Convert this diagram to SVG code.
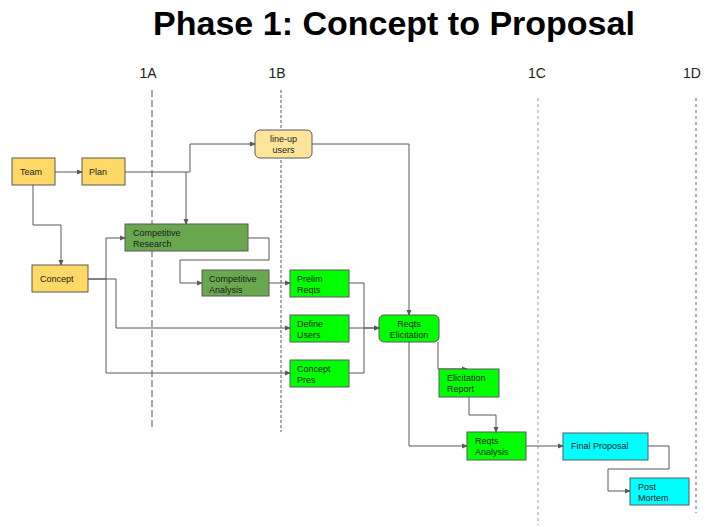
<svg xmlns="http://www.w3.org/2000/svg" width="711" height="527" viewBox="0 0 711 527">
<defs>
<marker id="arr" markerWidth="6" markerHeight="6" refX="5" refY="3" orient="auto" markerUnits="userSpaceOnUse">
<path d="M0,0.5 L6,3 L0,5.5 Z" fill="#595959"/>
</marker>
<style>
.t{font-family:"Liberation Sans",Arial,sans-serif;font-size:9px;fill:#1a1a1a}
.c{text-anchor:middle}
.lbl{font-family:"Liberation Sans",Arial,sans-serif;font-size:14px;fill:#222;text-anchor:middle}
.box{stroke:#595959;stroke-width:1}
.y{fill:#ffd966}
.ly{fill:#ffe599}
.dg{fill:#6aa84f}
.g{fill:#00ff00}
.cy{fill:#00ffff}
.cn{fill:none;stroke:#595959;stroke-width:1}
.ar{marker-end:url(#arr)}
</style>
</defs>
<rect width="711" height="527" fill="#ffffff"/>
<text x="394" y="35" font-family="Liberation Sans,Arial,sans-serif" font-size="34" font-weight="bold" text-anchor="middle" fill="#000">Phase 1: Concept to Proposal</text>
<g id="milestones">
<text class="lbl" x="148" y="78">1A</text>
<text class="lbl" x="277" y="78">1B</text>
<text class="lbl" x="537" y="78">1C</text>
<text class="lbl" x="692" y="78">1D</text>
<line x1="152" y1="90" x2="152" y2="429" stroke="#555" stroke-width="1" stroke-dasharray="7,3"/>
<line x1="281" y1="90" x2="281" y2="432" stroke="#555" stroke-width="1" stroke-dasharray="3,2"/>
<line x1="538" y1="98" x2="538" y2="525" stroke="#999" stroke-width="1" stroke-dasharray="3,3"/>
<line x1="696" y1="98" x2="696" y2="513" stroke="#666" stroke-width="1" stroke-dasharray="3,3"/>
</g>
<g id="connectors">
<path class="cn ar" d="M55,172 H82"/>
<path class="cn ar" d="M33,185 V225 H61 V265"/>
<path class="cn ar" d="M125,172 H190 V144 H255"/>
<path class="cn ar" d="M186,172 V224"/>
<path class="cn ar" d="M88,279 H106 V238 H125"/>
<path class="cn ar" d="M88,279 H116 V328 H290"/>
<path class="cn ar" d="M106,279 V373 H290"/>
<path class="cn ar" d="M248,238 H269 V260 H180 V283 H202"/>
<path class="cn ar" d="M269,283 H290"/>
<path class="cn ar" d="M312,144 H409 V315"/>
<path class="cn ar" d="M349,283 H364 V328 H379"/>
<path class="cn ar" d="M349,328 H379"/>
<path class="cn" d="M349,373 H364 V328"/>
<path class="cn ar" d="M438,342 V369 H467"/>
<path class="cn ar" d="M469,397 V415 H496 V432"/>
<path class="cn ar" d="M409,342 V446 H467"/>
<path class="cn ar" d="M526,446 H563"/>
<path class="cn ar" d="M648,446 H669 V469 H608 V491 H630"/>
</g>
<g id="team"><rect class="box y" x="12" y="158" width="43" height="27"/><text class="t" x="20" y="175">Team</text></g>
<g id="plan"><rect class="box y" x="82" y="158" width="43" height="27"/><text class="t" x="89" y="175">Plan</text></g>
<g id="concept"><rect class="box y" x="32" y="265" width="56" height="27"/><text class="t" x="40" y="282">Concept</text></g>
<g id="lineup-users"><rect class="box ly" x="255" y="130" width="57" height="28" rx="5"/><text class="t c" x="283.5" y="142">line-up</text><text class="t c" x="283.5" y="153">users</text></g>
<g id="competitive-research"><rect class="box dg" x="125" y="224" width="123" height="27"/><text class="t" x="133" y="236">Competitive</text><text class="t" x="133" y="247">Research</text></g>
<g id="competitive-analysis"><rect class="box dg" x="202" y="270" width="67" height="26"/><text class="t" x="209" y="282">Competitive</text><text class="t" x="209" y="293">Analysis</text></g>
<g id="prelim-reqts"><rect class="box g" x="290" y="270" width="59" height="27"/><text class="t" x="297" y="282">Prelim</text><text class="t" x="297" y="293">Reqts</text></g>
<g id="define-users"><rect class="box g" x="290" y="315" width="59" height="27"/><text class="t" x="297" y="327">Define</text><text class="t" x="297" y="338">Users</text></g>
<g id="concept-pres"><rect class="box g" x="290" y="360" width="59" height="27"/><text class="t" x="297" y="372">Concept</text><text class="t" x="297" y="383">Pres</text></g>
<g id="reqts-elicitation"><rect class="box g" x="379" y="315" width="60" height="27" rx="5"/><text class="t c" x="409" y="327">Reqts</text><text class="t c" x="409" y="338">Elicitation</text></g>
<g id="elicitation-report"><rect class="box g" x="439" y="369" width="60" height="28"/><text class="t" x="447" y="381">Elicitation</text><text class="t" x="447" y="392">Report</text></g>
<g id="reqts-analysis"><rect class="box g" x="467" y="432" width="59" height="28"/><text class="t" x="475" y="444">Reqts</text><text class="t" x="475" y="455">Analysis</text></g>
<g id="final-proposal"><rect class="box cy" x="563" y="433" width="85" height="27"/><text class="t" x="571" y="449">Final Proposal</text></g>
<g id="post-mortem"><rect class="box cy" x="630" y="478" width="59" height="27"/><text class="t" x="638" y="490">Post</text><text class="t" x="638" y="501">Mortem</text></g>
</svg>
